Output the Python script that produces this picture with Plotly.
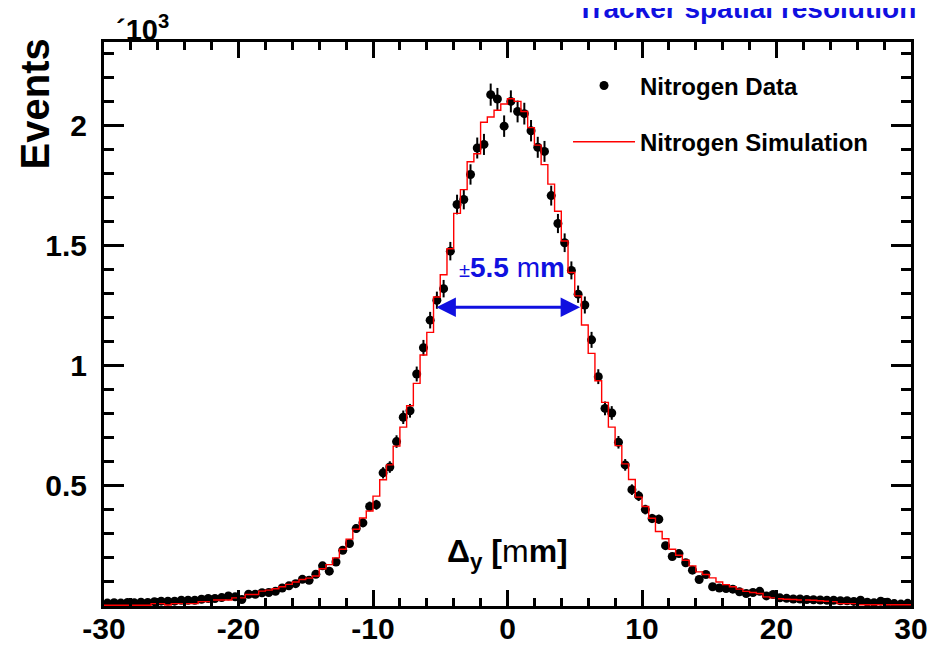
import numpy as np
import plotly.graph_objects as go

FONT = "Liberation Sans, Arial, sans-serif"
BLUE = "#1010e0"

# binning of the residual histogram (mm)
X_LO, X_HI, BIN_W = -30.0, 30.0, 0.5

# Nitrogen data, events per bin in units of 10^3 (120 bins, -30 .. 30 mm)
data_k = [
    0.012, 0.014, 0.012, 0.015, 0.013, 0.016, 0.015, 0.018, 0.020, 0.020,
    0.020, 0.024, 0.024, 0.024, 0.028, 0.031, 0.031, 0.035, 0.042, 0.038,
    0.027, 0.049, 0.049, 0.055, 0.056, 0.061, 0.075, 0.084, 0.093, 0.111,
    0.107, 0.132, 0.167, 0.145, 0.183, 0.232, 0.260, 0.322, 0.346, 0.414,
    0.421, 0.554, 0.578, 0.684, 0.785, 0.812, 0.965, 1.074, 1.189, 1.272,
    1.320, 1.476, 1.670, 1.691, 1.795, 1.905, 1.920, 2.127, 2.109, 1.996,
    2.099, 2.057, 2.048, 1.977, 1.908, 1.891, 1.707, 1.591, 1.511, 1.396,
    1.297, 1.252, 1.107, 0.954, 0.822, 0.803, 0.681, 0.587, 0.484, 0.458,
    0.401, 0.364, 0.361, 0.251, 0.206, 0.218, 0.180, 0.149, 0.110, 0.131,
    0.080, 0.075, 0.073, 0.070, 0.059, 0.052, 0.056, 0.061, 0.042, 0.048,
    0.034, 0.032, 0.029, 0.029, 0.027, 0.026, 0.025, 0.024, 0.024, 0.022,
    0.022, 0.019, 0.024, 0.016, 0.014, 0.020, 0.016, 0.010, 0.008, 0.011,
]

# Nitrogen simulation, same binning, units of 10^3
sim_k = [
    0.003, 0.003, 0.003, 0.003, 0.003, 0.003, 0.003, 0.010, 0.010, 0.004,
    0.010, 0.010, 0.010, 0.010, 0.018, 0.018, 0.025, 0.025, 0.025, 0.034,
    0.034, 0.048, 0.048, 0.062, 0.066, 0.072, 0.080, 0.090, 0.100, 0.110,
    0.116, 0.125, 0.155, 0.172, 0.200, 0.236, 0.278, 0.319, 0.366, 0.395,
    0.457, 0.525, 0.587, 0.665, 0.744, 0.833, 0.926, 1.044, 1.138, 1.285,
    1.378, 1.486, 1.633, 1.732, 1.848, 1.881, 2.012, 2.034, 2.062, 2.088,
    2.110, 2.099, 2.057, 1.990, 1.917, 1.836, 1.755, 1.642, 1.518, 1.387,
    1.290, 1.169, 1.051, 0.937, 0.847, 0.744, 0.667, 0.591, 0.526, 0.453,
    0.414, 0.365, 0.310, 0.280, 0.236, 0.211, 0.190, 0.167, 0.142, 0.131,
    0.117, 0.100, 0.089, 0.080, 0.070, 0.061, 0.056, 0.052, 0.038, 0.034,
    0.030, 0.028, 0.027, 0.025, 0.025, 0.024, 0.022, 0.020, 0.018, 0.010,
    0.010, 0.010, 0.005, 0.005, 0.005, 0.005, 0.005, 0.005, 0.005, 0.005,
]

# tick labels (ROOT draws a plain hyphen as minus sign)
x_ticks = [-30, -20, -10, 0, 10, 20, 30]
x_labels = ["-30", "-20", "-10", "0", "10", "20", "30"]
y_ticks = [0.5, 1, 1.5, 2]
y_labels = ["0.5", "1", "1.5", "2"]

# quoted resolution arrow: ends (mm) and height it is drawn at (10^3)
fwhm_lo, fwhm_hi, fwhm_y = -5.4, 5.4, 1.243

edges = np.arange(X_LO, X_HI + BIN_W / 2, BIN_W)
centers = 0.5 * (edges[:-1] + edges[1:])
data = np.array(data_k)
err = np.sqrt(data * 1000) / 1000  # poisson errors, back in 10^3
sim_y = list(sim_k) + [sim_k[-1]]

fig = go.Figure()
fig.add_trace(go.Scatter(
    x=centers, y=data, mode="markers", name="Nitrogen Data",
    marker=dict(color="black", size=9),
    error_y=dict(type="data", array=err, color="black", thickness=2, width=0),
    legendgroup="d",
))
fig.add_trace(go.Scatter(
    x=edges, y=sim_y, mode="lines", name="Nitrogen Simulation",
    line=dict(color="#ff0000", width=1.4, shape="hv"),
    legendgroup="s",
))

axis_common = dict(
    showline=True, linecolor="black", linewidth=3, mirror="allticks",
    ticks="inside", tickcolor="black", tickwidth=2.5,
    showgrid=False, zeroline=False, automargin=False,
    tickfont=dict(family=FONT, size=30, color="black", weight="bold"),
)
fig.update_xaxes(
    range=[X_LO, X_HI], tickmode="array", tickvals=x_ticks, ticktext=x_labels,
    ticklen=16, ticklabelstandoff=-6,
    minor=dict(tickmode="linear", tick0=-30, dtick=2, ticks="inside",
               ticklen=8, tickwidth=2.5, tickcolor="black"),
    **axis_common,
)
fig.update_yaxes(
    range=[0, 2.346], tickmode="array", tickvals=y_ticks, ticktext=y_labels,
    ticklen=20, ticklabelstandoff=8,
    minor=dict(tickmode="linear", tick0=0, dtick=0.1, ticks="inside",
               ticklen=10, tickwidth=2.5, tickcolor="black"),
    **axis_common,
)

# the page body adds an 8 px offset, so the figure is 8 px smaller each way
fig.update_layout(
    width=930, height=640,
    margin=dict(l=96, r=27, t=34, b=42),
    plot_bgcolor="white", paper_bgcolor="white",
    showlegend=True,
    legend=dict(
        x=0.575, y=0.962, xanchor="left", yanchor="top", itemwidth=62,
        bgcolor="rgba(0,0,0,0)", tracegroupgap=22, traceorder="grouped",
        font=dict(family=FONT, size=24, color="black", weight="bold"),
    ),
)

# titles and labels, ROOT style
fig.add_annotation(
    text="Tracker spatial resolution", xref="paper", yref="paper",
    x=1.0087, y=1.06, xanchor="right", yanchor="middle", showarrow=False,
    font=dict(family=FONT, size=28, color=BLUE, weight="bold"),
)
fig.add_annotation(
    text="´10<sup>3</sup>", xref="paper", yref="paper",
    x=0.013, y=1.024, xanchor="left", yanchor="middle", showarrow=False,
    font=dict(family=FONT, size=29, color="black", weight="bold"),
)
fig.add_annotation(
    text="Events", xref="paper", yref="paper", textangle=-90,
    x=-0.085, y=0.89, xanchor="center", yanchor="middle", showarrow=False,
    font=dict(family=FONT, size=40, color="black", weight="bold"),
)
fig.add_annotation(
    text="Δ<sub>y</sub> [<span style='font-weight:normal'>m</span>m]",
    xref="x", yref="paper", x=0, y=0.054, showarrow=False,
    font=dict(family=FONT, size=32, color="black", weight="bold"),
)
fig.add_annotation(
    text="<span style='font-weight:normal;font-size:20px'>±</span>5.5 "
         "<span style='font-weight:normal'>m</span>m",
    xref="x", yref="y", x=0.3, y=1.41, showarrow=False,
    font=dict(family=FONT, size=28, color=BLUE, weight="bold"),
)
fig.add_annotation(
    x=fwhm_hi, y=fwhm_y, ax=fwhm_lo, ay=fwhm_y,
    xref="x", yref="y", axref="x", ayref="y", text="",
    showarrow=True, arrowhead=2, startarrowhead=2, arrowside="end+start",
    arrowsize=1.3, startarrowsize=1.3, arrowwidth=3, arrowcolor=BLUE,
)

fig.write_html("out.html")
